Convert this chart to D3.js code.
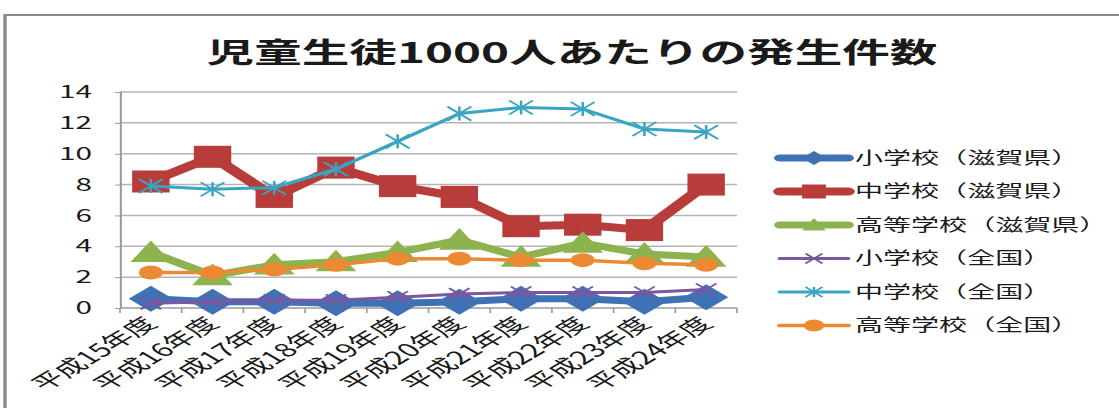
<!DOCTYPE html>
<html><head><meta charset="utf-8">
<script src="https://cdn.jsdelivr.net/npm/d3@7"></script>
<style>
html,body{margin:0;padding:0;background:#fff;}
svg text{font-family:"Noto Sans CJK JP","Noto Sans",sans-serif;fill:#1a1a1a;}
</style></head>
<body>
<svg id="chart" width="1119" height="408"></svg>
<script>
const title = "児童生徒1000人あたりの発生件数";
const categories = ["平成15年度","平成16年度","平成17年度","平成18年度","平成19年度","平成20年度","平成21年度","平成22年度","平成23年度","平成24年度"];
const yTicks = [0,2,4,6,8,10,12,14];
const seriesNames = ["小学校（滋賀県）","中学校（滋賀県）","高等学校（滋賀県）","小学校（全国）","中学校（全国）","高等学校（全国）"];
const elemShiga = [0.6,0.4,0.4,0.3,0.3,0.4,0.6,0.6,0.4,0.7];
const juniorShiga = [8.2,9.8,7.2,9.1,7.9,7.2,5.3,5.4,5.05,8.0];
const highShiga = [3.6,2.1,2.8,3.0,3.6,4.4,3.3,4.2,3.5,3.3];
const elemNation = [0.3,0.4,0.5,0.5,0.7,0.9,1.0,1.0,1.0,1.2];
const juniorNation = [7.9,7.7,7.8,9.0,10.8,12.6,13.0,12.9,11.6,11.4];
const highNation = [2.3,2.3,2.5,2.8,3.2,3.2,3.1,3.1,2.9,2.8];

const SX = 1.7; // horizontal stretch of the reference picture
const svg = d3.select("#chart");
const g = svg.append("g").attr("transform", `scale(${SX},1)`);
const u = px => px / SX;

// frame
g.append("rect").attr("x", u(5)).attr("y", 15).attr("width", u(1200)).attr("height", 500)
  .attr("fill", "#fff").attr("stroke", "#8a8a8a").attr("stroke-width", 2);

const plotL = u(120), plotR = u(737), plotT = 92, plotB = 308;
const x = d3.scaleBand().domain(categories).range([plotL, plotR]);
const y = d3.scaleLinear().domain([0,14]).range([plotB, plotT]);

// title
g.append("text").attr("x", u(572)).attr("y", 63).attr("text-anchor","middle")
  .attr("font-size", 28).attr("font-weight","bold").text(title);

// gridlines
g.append("g").selectAll("line").data(yTicks.filter(d=>d>0)).join("line")
  .attr("x1", plotL).attr("x2", plotR).attr("y1", d=>y(d)).attr("y2", d=>y(d))
  .attr("stroke", "#b4b4b4").attr("stroke-width", 1.5);

// y axis
const yAxis = g.append("g").attr("transform", `translate(${plotL},0)`)
  .call(d3.axisLeft(y).tickValues(yTicks).tickSize(u(5)).tickPadding(u(23)).tickFormat(d3.format("d")));
yAxis.select(".domain").attr("stroke","#9a9a9a").attr("stroke-width",1.2);
yAxis.selectAll(".tick line").attr("stroke","#9a9a9a");
yAxis.selectAll("text").attr("font-size", 17.5).attr("font-family","'Open Sans','DejaVu Sans',sans-serif").attr("fill","#1a1a1a");

// x axis line and ticks
const xa = g.append("g");
xa.append("line").attr("x1", plotL).attr("x2", plotR).attr("y1", plotB).attr("y2", plotB)
  .attr("stroke", "#9a9a9a").attr("stroke-width", 1.5);
const bounds = categories.map(c => x(c)).concat([plotR]);
xa.selectAll("line.tk").data(bounds).join("line").attr("class","tk")
  .attr("x1", d=>d).attr("x2", d=>d).attr("y1", plotB).attr("y2", plotB+5)
  .attr("stroke","#9a9a9a").attr("stroke-width",1);
xa.selectAll("text").data(categories).join("text")
  .attr("transform", d => `translate(${x(d)+x.bandwidth()/2+u(8)},${plotB+17}) rotate(-45)`)
  .attr("text-anchor","end").attr("font-size", 18.5).text(d=>d);

// series
const series = [
  {name: seriesNames[0], values: elemShiga, color:"#3f72b5", width:7, marker:"diamond", size:13},
  {name: seriesNames[1], values: juniorShiga, color:"#b83c39", width:8, marker:"square", size:11},
  {name: seriesNames[2], values: highShiga, color:"#8db34f", width:7, marker:"triangle", size:12},
  {name: seriesNames[3], values: elemNation, color:"#7d55a0", width:3, marker:"x", size:6},
  {name: seriesNames[4], values: juniorNation, color:"#3aa5c2", width:3, marker:"star", size:7},
  {name: seriesNames[5], values: highNation, color:"#ec8a33", width:3.5, marker:"circle", size:7}
];

function drawMarker(sel, s, cx, cy) {
  const r = s.size;
  if (s.marker === "diamond") {
    sel.append("path").attr("d", `M${cx},${cy-r}L${cx+r},${cy}L${cx},${cy+r}L${cx-r},${cy}Z`).attr("fill", s.color);
  } else if (s.marker === "square") {
    sel.append("rect").attr("x", cx-r).attr("y", cy-r).attr("width", 2*r).attr("height", 2*r).attr("fill", s.color);
  } else if (s.marker === "triangle") {
    sel.append("path").attr("d", `M${cx},${cy-r}L${cx+r},${cy+r*0.8}L${cx-r},${cy+r*0.8}Z`).attr("fill", s.color);
  } else if (s.marker === "circle") {
    sel.append("circle").attr("cx", cx).attr("cy", cy).attr("r", r).attr("fill", s.color);
  } else if (s.marker === "x") {
    sel.append("path").attr("d", `M${cx-r},${cy-r}L${cx+r},${cy+r}M${cx-r},${cy+r}L${cx+r},${cy-r}`)
      .attr("stroke", s.color).attr("stroke-width", 1.5).attr("fill","none");
  } else if (s.marker === "star") {
    sel.append("path").attr("d", `M${cx-r},${cy-r}L${cx+r},${cy+r}M${cx-r},${cy+r}L${cx+r},${cy-r}M${cx},${cy-r}L${cx},${cy+r}`)
      .attr("stroke", s.color).attr("stroke-width", 1.5).attr("fill","none");
  }
}

const line = d3.line().x((d,i)=>x(categories[i])+x.bandwidth()/2).y(d=>y(d));
series.forEach(s => {
  const sg = g.append("g");
  sg.append("path").attr("d", line(s.values)).attr("fill","none").attr("stroke", s.color)
    .attr("stroke-width", s.width).attr("stroke-linejoin","round").attr("stroke-linecap","round");
  s.values.forEach((v,i) => drawMarker(sg, s, x(categories[i])+x.bandwidth()/2, y(v)));
});

// legend
const lg = g.append("g");
series.forEach((s,i) => {
  const ly = 158 + i*33.5;
  const row = lg.append("g");
  row.append("line").attr("x1", u(780)).attr("x2", u(848)).attr("y1", ly).attr("y2", ly)
    .attr("stroke", s.color).attr("stroke-width", s.width).attr("stroke-linecap","round");
  const ms = Object.assign({}, s, {size: s.marker==="circle"?6: (s.marker==="x"||s.marker==="star")?5: 7});
  drawMarker(row, ms, u(814), ly);
  row.append("text").attr("x", u(855)).attr("y", ly+6).attr("font-size", 16.5).text(s.name);
});
</script>
</body></html>
